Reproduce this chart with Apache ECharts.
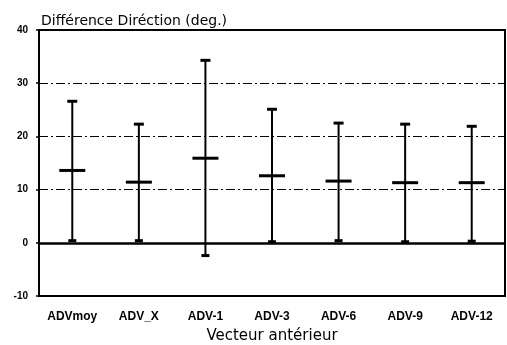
<!DOCTYPE html>
<html>
<head>
<meta charset="utf-8">
<script src="https://cdn.jsdelivr.net/npm/echarts@6/dist/echarts.min.js"></script>
<style>html,body{margin:0;padding:0;background:#fff}#c{width:507px;height:345px}</style>
</head>
<body>
<div id="c"></div>
<script>
var categories = ['ADVmoy', 'ADV_X', 'ADV-1', 'ADV-3', 'ADV-6', 'ADV-9', 'ADV-12'];
var meanValues = [13.6, 11.4, 15.9, 12.6, 11.6, 11.3, 11.3];
var upperValues = [26.6, 22.3, 34.3, 25.1, 22.5, 22.3, 21.9];
var lowerValues = [0.4, 0.4, -2.4, 0.2, 0.4, 0.2, 0.3];
var yTicks = [-10, 0, 10, 20, 30, 40];

var data = categories.map(function (c, i) {
  return [i, lowerValues[i], upperValues[i], meanValues[i]];
});

var chart = echarts.init(document.getElementById('c'));
var font = 'Liberation Sans, Arial, Helvetica, sans-serif';
var wide = 'DejaVu Sans, Verdana, sans-serif';
chart.setOption({
  animation: false,
  title: {
    text: 'Différence Diréction (deg.)',
    left: 36, top: 9,
    textStyle: {fontFamily: wide, fontSize: 14, fontWeight: 'normal', color: '#000'}
  },
  grid: {left: 39, right: 2, top: 30, bottom: 49, show: true, borderColor: '#000', borderWidth: 2,
         containLabel: false, outerBoundsMode: 'none'},
  xAxis: {
    type: 'category',
    data: categories,
    name: 'Vecteur antérieur',
    nameLocation: 'middle',
    nameGap: 33,
    nameTextStyle: {fontFamily: wide, fontSize: 15, color: '#000'},
    axisLine: {onZero: false, lineStyle: {color: '#000', width: 2}},
    axisTick: {alignWithLabel: true, length: 4, lineStyle: {color: '#000', width: 1.5}},
    axisLabel: {fontFamily: font, fontSize: 12, fontWeight: 'bold', color: '#000', margin: 15},
    splitLine: {show: false}
  },
  yAxis: {
    type: 'value',
    min: yTicks[0], max: yTicks[yTicks.length - 1], interval: 10,
    axisLine: {show: true, lineStyle: {color: '#000', width: 1.5}},
    axisTick: {show: true, length: 3, lineStyle: {color: '#000', width: 1.5}},
    axisLabel: {fontFamily: font, fontSize: 10, fontWeight: 'bold', color: '#000', margin: 11},
    splitLine: {show: true, lineStyle: {color: '#000', width: 1, type: [9, 3, 2, 3]}}
  },
  series: [{
    type: 'custom',
    data: data,
    renderItem: function (params, api) {
      var x = api.value(0);
      var lo = api.coord([x, api.value(1)]);
      var hi = api.coord([x, api.value(2)]);
      var mn = api.coord([x, api.value(3)]);
      var st = {stroke: '#000', lineWidth: 2};
      return {
        type: 'group',
        children: [
          {type: 'line', shape: {x1: lo[0], y1: lo[1], x2: hi[0], y2: hi[1]}, style: st},
          {type: 'line', shape: {x1: hi[0] - 5, y1: hi[1], x2: hi[0] + 5, y2: hi[1]}, style: {stroke: '#000', lineWidth: 3}},
          {type: 'line', shape: {x1: lo[0] - 4, y1: lo[1], x2: lo[0] + 4, y2: lo[1]}, style: {stroke: '#000', lineWidth: 3}},
          {type: 'line', shape: {x1: mn[0] - 13, y1: mn[1], x2: mn[0] + 13, y2: mn[1]}, style: {stroke: '#000', lineWidth: 3}}
        ]
      };
    },
    markLine: {
      silent: true, symbol: 'none', label: {show: false},
      lineStyle: {color: '#000', width: 2.5, type: 'solid'},
      data: [{yAxis: 0}]
    },
    z: 5
  }]
});
</script>
</body>
</html>
